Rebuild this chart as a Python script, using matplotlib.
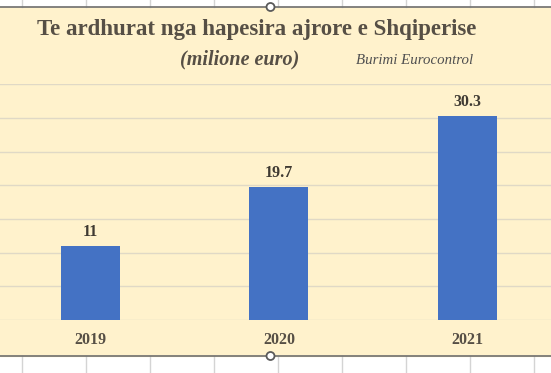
import matplotlib
matplotlib.use("Agg")
from matplotlib import pyplot as plt
from matplotlib.patches import Rectangle, Circle

years = ['2019', '2020', '2021']
revenue = [11, 19.7, 30.3]
labels = ['11', '19.7', '30.3']

W, H = 551, 373
serif = 'Liberation Serif'
beige = '#FFF2CC'
text_col = '#564F45'

fig = plt.figure(figsize=(W / 100, H / 100), dpi=100)

# spreadsheet behind the chart object
bg = fig.add_axes([0, 0, 1, 1])
bg.set_xlim(0, W)
bg.set_ylim(H, 0)
bg.axis('off')
bg.add_patch(Rectangle((0, 0), W, H, color='white', zorder=0))
bg.add_patch(Rectangle((0, 7), W, 349, color=beige, zorder=1))
for x in range(22, W, 64):
    bg.plot([x, x], [0, 7], color='#D4D4D4', lw=1, zorder=1)
    bg.plot([x, x], [356, H], color='#D4D4D4', lw=1, zorder=1)
for y in (7, 356):
    bg.plot([0, W], [y, y], color='#6E6E6E', lw=1.2, zorder=2)
    bg.add_patch(Circle((270.5, y), 4, facecolor='white', edgecolor='#5A5A5A', lw=1.3, zorder=3))

# chart
ax = fig.add_axes([0, (H - 320) / H, 1, (320 - 84.3) / H])
ax.patch.set_alpha(0)
x = range(len(years))
bars = ax.bar(x, revenue, width=0.313, color='#4472C4', zorder=3)
ax.set_xlim(-0.480, 2.443)
ax.set_ylim(0, 35)
ax.set_yticks(range(0, 36, 5))
ax.yaxis.grid(True, color='#E0D9C6', lw=1)
ax.set_axisbelow(True)
for s in ax.spines.values():
    s.set_visible(False)
ax.tick_params(axis='y', left=False, labelleft=False)
ax.set_xticks(list(x))
ax.set_xticklabels(years, fontfamily=serif, fontweight='bold', fontsize=11.5, color=text_col)
ax.tick_params(axis='x', length=0, pad=9)

for b, lab in zip(bars, labels):
    ax.annotate(lab, (b.get_x() + b.get_width() / 2, b.get_height()),
                xytext=(0, 10), textcoords='offset points', ha='center', va='center',
                fontfamily=serif, fontweight='bold', fontsize=11.5, color='#3F3A32')

fig.text(257 / W, 1 - 30 / H, 'Te ardhurat nga hapesira ajrore e Shqiperise',
         ha='center', va='center', fontfamily=serif, fontweight='bold', fontsize=16.5, color=text_col)
fig.text(240 / W, 1 - 59 / H, '(milione euro)', ha='center', va='center',
         fontfamily=serif, fontweight='bold', fontstyle='italic', fontsize=14.5, color=text_col)
fig.text(415 / W, 1 - 60 / H, 'Burimi Eurocontrol', ha='center', va='center',
         fontfamily=serif, fontstyle='italic', fontsize=10.7, color='#505050')

fig.savefig('out.png', dpi=100)
